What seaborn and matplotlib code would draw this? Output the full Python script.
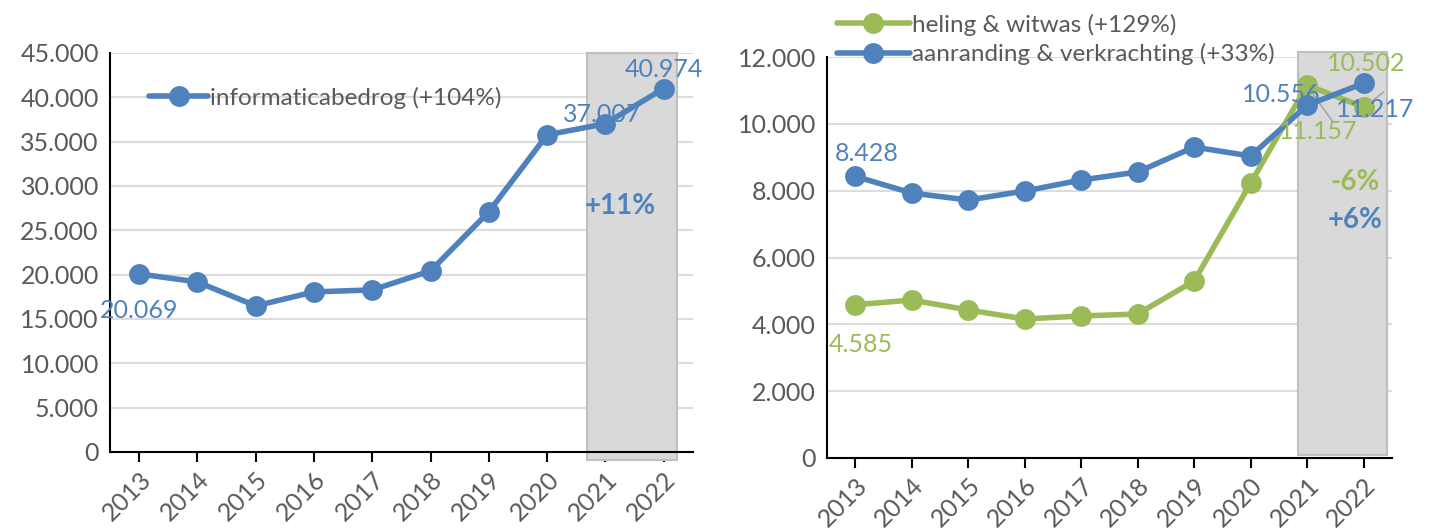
import numpy as np
import pandas as pd
import seaborn as sns
import matplotlib.pyplot as plt
from matplotlib.patches import Rectangle
from matplotlib.ticker import FuncFormatter

years = [2013, 2014, 2015, 2016, 2017, 2018, 2019, 2020, 2021, 2022]
informatica = [20069, 19170, 16470, 18045, 18270, 20410, 27070, 35750, 37007, 40974]
heling = [4585, 4728, 4429, 4160, 4250, 4309, 5297, 8229, 11157, 10502]
aanranding = [8428, 7930, 7720, 7990, 8319, 8559, 9307, 9037, 10556, 11217]

blue = '#4F81BD'
green = '#9BBB59'
grey_txt = '#595959'

sns.set_theme(style='white')
plt.rcParams['font.family'] = ['Lato', 'DejaVu Sans']

fig = plt.figure(figsize=(14.32, 5.28), dpi=100)
ax1 = fig.add_axes([0.0768, 0.144, 0.407, 0.756])
ax2 = fig.add_axes([0.5775, 0.1326, 0.3945, 0.7594])

dots = lambda v: f'{int(v):,}'.replace(',', '.')

def style(ax, ymax, step):
    ax.set_xlim(2012.5, 2022.5)
    ax.set_ylim(0, ymax)
    ax.set_yticks(np.arange(0, ymax + 1, step))
    ax.yaxis.set_major_formatter(FuncFormatter(lambda v, p: dots(v)))
    ax.set_xticks(years)
    ax.set_xticklabels(years, rotation=45, ha='right', rotation_mode='anchor')
    ax.grid(axis='y', color='#DCDCDC', lw=1.5, zorder=0)
    for s in ['top', 'right']:
        ax.spines[s].set_visible(False)
    for s in ['left', 'bottom']:
        ax.spines[s].set_color('black')
        ax.spines[s].set_linewidth(1.5)
    ax.tick_params(axis='x', direction='out', length=7, width=1.5, color='black',
                   labelsize=18, labelcolor=grey_txt, bottom=True, pad=4)
    ax.tick_params(axis='y', length=0, labelsize=18, labelcolor=grey_txt, pad=8)
    ax.set_xlabel('')
    ax.set_ylabel('')

# left panel
df1 = pd.DataFrame({'jaar': years, 'aantal': informatica})
ax1.add_patch(Rectangle((2020.68, -900), 1.55, 45900, facecolor='#D9D9D9',
                        edgecolor='#BFBFBF', lw=1.5, zorder=1, clip_on=False))
sns.lineplot(data=df1, x='jaar', y='aantal', ax=ax1, color=blue, lw=4, marker='o',
             markersize=15, markeredgewidth=0, label='informaticabedrog (+104%)', zorder=3)
style(ax1, 45000, 5000)
ax1.legend(loc='upper left', bbox_to_anchor=(0.03, 0.97), frameon=False, fontsize=17.5,
           labelcolor=grey_txt, handlelength=2.4, handletextpad=0.1)
ax1.text(2013, 15900, '20.069', color=blue, fontsize=18, ha='center', va='center')
ax1.text(2020.95, 38000, '37.007', color=blue, fontsize=18, ha='center', va='center')
ax1.text(2022, 43100, '40.974', color=blue, fontsize=18, ha='center', va='center')
ax1.text(2021.25, 27700, '+11%', color=blue, fontsize=20, fontweight='bold', ha='center', va='center')

# right panel
df2 = pd.DataFrame({'jaar': years * 2, 'aantal': heling + aanranding,
                    'reeks': ['heling & witwas (+129%)'] * 10 + ['aanranding & verkrachting (+33%)'] * 10})
ax2.add_patch(Rectangle((2020.83, 100), 1.58, 12050, facecolor='#D9D9D9',
                        edgecolor='#BFBFBF', lw=1.5, zorder=1, clip_on=False))
sns.lineplot(data=df2, x='jaar', y='aantal', hue='reeks', ax=ax2, palette=[green, blue],
             lw=4, marker='o', markersize=15, markeredgewidth=0, zorder=3)
style(ax2, 12000, 2000)
ax2.legend(loc='lower left', bbox_to_anchor=(0.0, 0.955), frameon=False, fontsize=17.5,
           labelcolor=grey_txt, handlelength=3, handletextpad=0.1, labelspacing=0.3,
           borderaxespad=0)
ax2.text(2013.2, 9100, '8.428', color=blue, fontsize=18, ha='center', va='center')
ax2.text(2013.1, 3400, '4.585', color=green, fontsize=18, ha='center', va='center')
ax2.text(2020.55, 10870, '10.556', color=blue, fontsize=18, ha='center', va='center')
ax2.text(2021.2, 9780, '11.157', color=green, fontsize=18, ha='center', va='center')
ax2.text(2022.05, 11800, '10.502', color=green, fontsize=18, ha='center', va='center')
ax2.text(2022.2, 10420, '11.217', color=blue, fontsize=18, ha='center', va='center')
ax2.plot([2021.1, 2021.45], [10900, 10070], color='#A6A6A6', lw=1.2, zorder=2)
ax2.plot([2022.05, 2022.35], [10550, 10950], color='#A6A6A6', lw=1.2, zorder=2)
ax2.text(2021.85, 8250, '-6%', color=green, fontsize=20, fontweight='bold', ha='center', va='center')
ax2.text(2021.85, 7130, '+6%', color=blue, fontsize=20, fontweight='bold', ha='center', va='center')

fig.savefig('out.png', dpi=100)
